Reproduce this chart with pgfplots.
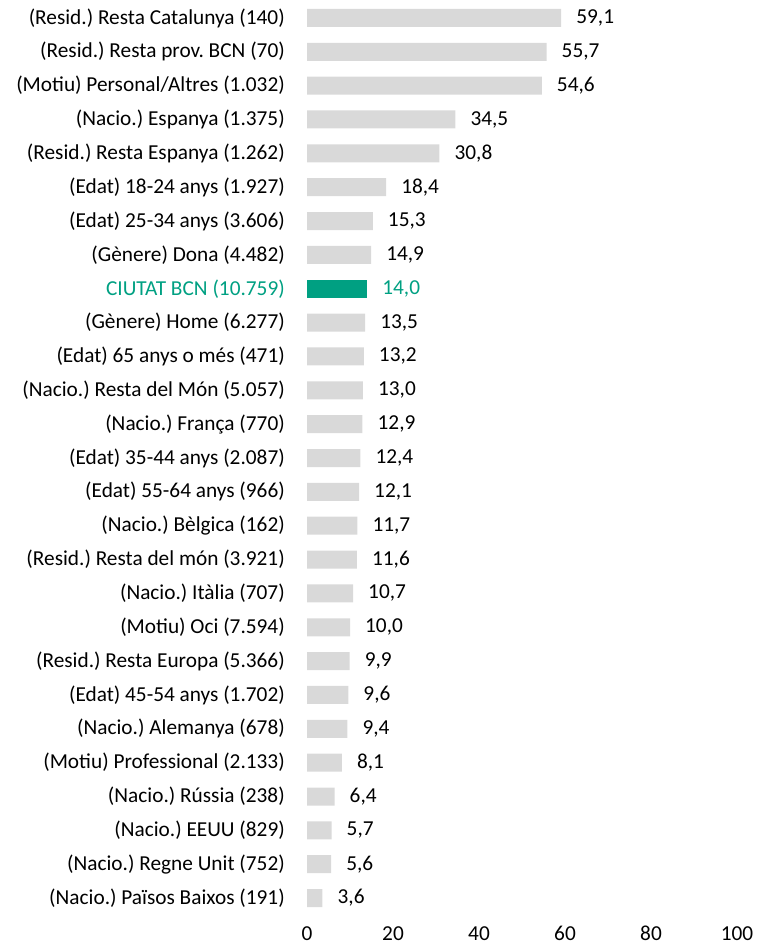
\documentclass[border=0pt]{standalone}
\usepackage{fontspec}
\setmainfont{Carlito}
\usepackage{pgfplots}
\pgfplotsset{compat=1.18}
\definecolor{barg}{RGB}{217,217,217}
\definecolor{hl}{RGB}{0,160,130}
\begin{document}
\frenchspacing
\fontsize{21.3}{24}\selectfont
\begin{tikzpicture}
\begin{axis}[
  at={(307pt,35pt)}, anchor=south west,
  xbar, bar width=18pt,
  scale only axis, width=430pt, height=914pt,
  xmin=0, xmax=100, ymin=-0.5, ymax=26.5, y dir=reverse,
  axis line style={draw=none}, tick style={draw=none}, major tick length=0pt,
  xtick={0,20,...,100},
  ytick={0,...,26},
  yticklabels={
    (Resid.) Resta Catalunya (140),
    (Resid.) Resta prov. BCN (70),
    (Motiu) Personal/Altres (1.032),
    (Nacio.) Espanya (1.375),
    (Resid.) Resta Espanya (1.262),
    (Edat) 18-24 anys (1.927),
    (Edat) 25-34 anys (3.606),
    (Gènere) Dona (4.482),
    \textcolor{hl}{CIUTAT BCN (10.759)},
    (Gènere) Home (6.277),
    (Edat) 65 anys o més (471),
    (Nacio.) Resta del Món (5.057),
    (Nacio.) França (770),
    (Edat) 35-44 anys (2.087),
    (Edat) 55-64 anys (966),
    (Nacio.) Bèlgica (162),
    (Resid.) Resta del món (3.921),
    (Nacio.) Itàlia (707),
    (Motiu) Oci (7.594),
    (Resid.) Resta Europa (5.366),
    (Edat) 45-54 anys (1.702),
    (Nacio.) Alemanya (678),
    (Motiu) Professional (2.133),
    (Nacio.) Rússia (238),
    (Nacio.) EEUU (829),
    (Nacio.) Regne Unit (752),
    (Nacio.) Països Baixos (191)},
  y tick label style={inner sep=0pt, xshift=-22pt, font=\frenchspacing\fontsize{21.3}{24}\selectfont},
  x tick label style={inner sep=0pt, yshift=-11pt, font=\fontsize{21.3}{24}\selectfont},
  /pgf/number format/assume math mode=true,
  nodes near coords,
  nodes near coords style={inner sep=0pt, xshift=15pt, anchor=west,
    font=\fontsize{21.3}{24}\selectfont,
    /pgf/number format/use comma, /pgf/number format/fixed,
    /pgf/number format/fixed zerofill, /pgf/number format/precision=1,
    /pgf/number format/assume math mode=true},
  clip=false,
]
\addplot[fill=barg, draw=none, bar shift=0pt] coordinates {
  (59.1,0) (55.7,1) (54.6,2) (34.5,3) (30.8,4) (18.4,5) (15.3,6) (14.9,7)
  (13.5,9) (13.2,10) (13.0,11) (12.9,12) (12.4,13) (12.1,14) (11.7,15)
  (11.6,16) (10.7,17) (10.0,18) (9.9,19) (9.6,20) (9.4,21) (8.1,22)
  (6.4,23) (5.7,24) (5.6,25) (3.6,26)
};
\addplot[fill=hl, draw=none, bar shift=0pt, nodes near coords style={text=hl}] coordinates {
  (14.0,8)
};
\end{axis}
\pgfresetboundingbox
\path (0,0) rectangle (756pt,950pt);
\end{tikzpicture}
\end{document}
